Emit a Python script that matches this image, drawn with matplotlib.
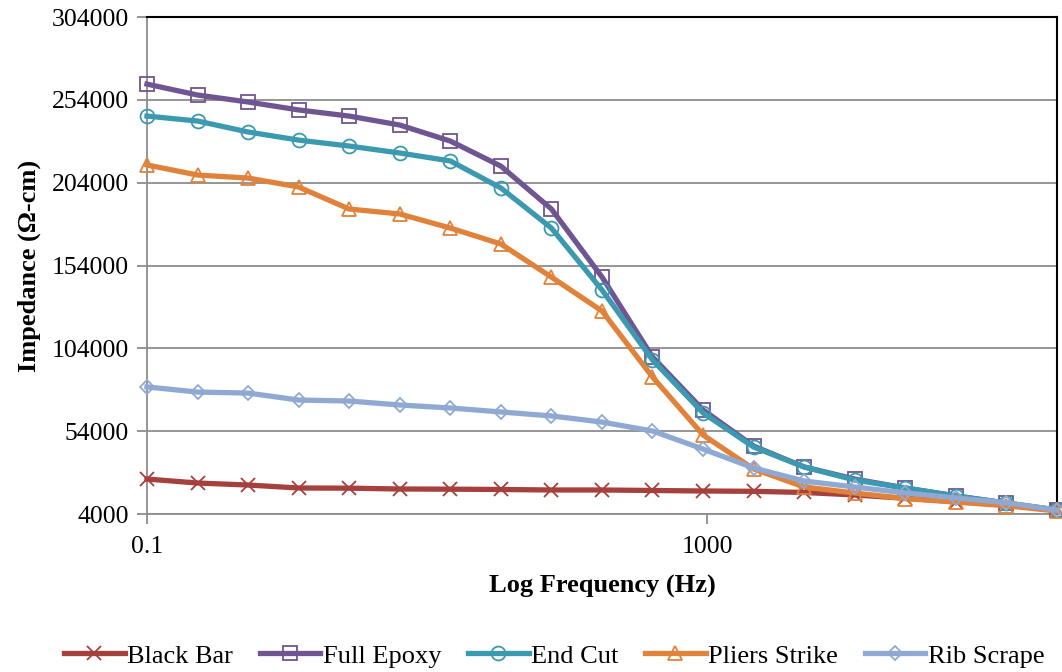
import matplotlib
matplotlib.use('Agg')
import matplotlib.pyplot as plt

plt.rcParams['font.family'] = ['Liberation Serif', 'DejaVu Serif']

freq = [0.1, 0.23, 0.527, 1.21, 2.78, 6.39, 14.7, 33.7, 77.4, 178, 408, 938,
        2154, 4946, 11360, 26100, 59950, 137700, 316200]

black_bar = [25100, 22700, 21500, 19700, 19600, 19100, 19000, 18800, 18500, 18500,
             18200, 17900, 17700, 17000, 15500, 13500, 11500, 9500, 6200]
full_epoxy = [263500, 256900, 252700, 247900, 244200, 238800, 229100, 214000, 188100, 147000,
              98800, 66800, 45000, 32400, 25100, 19700, 14900, 10600, 6400]
end_cut = [244200, 241200, 234600, 229700, 226100, 221900, 217100, 200800, 176600, 139200,
           97000, 65000, 44400, 32400, 24500, 19700, 14900, 10600, 6400]
pliers = [214700, 208600, 206800, 201400, 188100, 185100, 176600, 167000, 147000, 126500,
          86700, 51700, 31200, 20300, 16700, 13300, 11200, 9000, 5800]
rib_scrape = [80700, 77600, 77000, 72800, 72200, 69800, 68000, 65600, 63200, 59500,
              54100, 43200, 31800, 23900, 20300, 16700, 13700, 10800, 6400]

series = [
    ('Black Bar', black_bar, '#A5403D', 'x'),
    ('Full Epoxy', full_epoxy, '#6F5592', 's'),
    ('End Cut', end_cut, '#3B99B0', 'o'),
    ('Pliers Strike', pliers, '#E0823A', '^'),
    ('Rib Scrape', rib_scrape, '#8FA9D3', 'D'),
]

fig = plt.figure(figsize=(10.62, 6.72), dpi=100)
ax = fig.add_axes([0.1384, 0.2351, 0.8569, 0.7396])

for nome, valores, cor, marc in series:
    ms = 10 if marc != 'D' else 7.5
    ax.plot(freq, valores, color=cor, lw=3.8, marker=marc, ms=ms,
            mfc='none', mec=cor, mew=1.3, label=nome, clip_on=False, zorder=3)

ax.set_xscale('log')
ax.set_xlim(0.1, 316228)
ax.set_xticks([0.1, 1000])
ax.set_xticklabels(['0.1', '1000'])
ax.xaxis.set_minor_locator(matplotlib.ticker.NullLocator())

ax.set_ylim(4000, 304000)
ax.set_yticks(range(4000, 304001, 50000))
ax.grid(axis='y', color='#8C8C8C', lw=1.3)
ax.set_axisbelow(True)

for lado in ['left', 'bottom']:
    ax.spines[lado].set_color('#8C8C8C')
    ax.spines[lado].set_linewidth(1.3)
for lado in ['top', 'right']:
    ax.spines[lado].set_color('black')
    ax.spines[lado].set_linewidth(1.5)

ax.tick_params(axis='both', labelsize=18.5, color='#8C8C8C', length=7, width=1.3)
ax.tick_params(axis='x', pad=9)
ax.tick_params(axis='y', pad=6)

ax.set_xlabel('Log Frequency (Hz)', fontsize=19, fontweight='bold', labelpad=12)
ax.set_ylabel('Impedance (Ω-cm)', fontsize=19, fontweight='bold', labelpad=8)

fig.legend(loc='center', bbox_to_anchor=(0.522, 0.024), ncol=5, frameon=False,
           fontsize=19, handlelength=2.3, columnspacing=1.0, handletextpad=0.1)

plt.savefig('out.png', dpi=100)
